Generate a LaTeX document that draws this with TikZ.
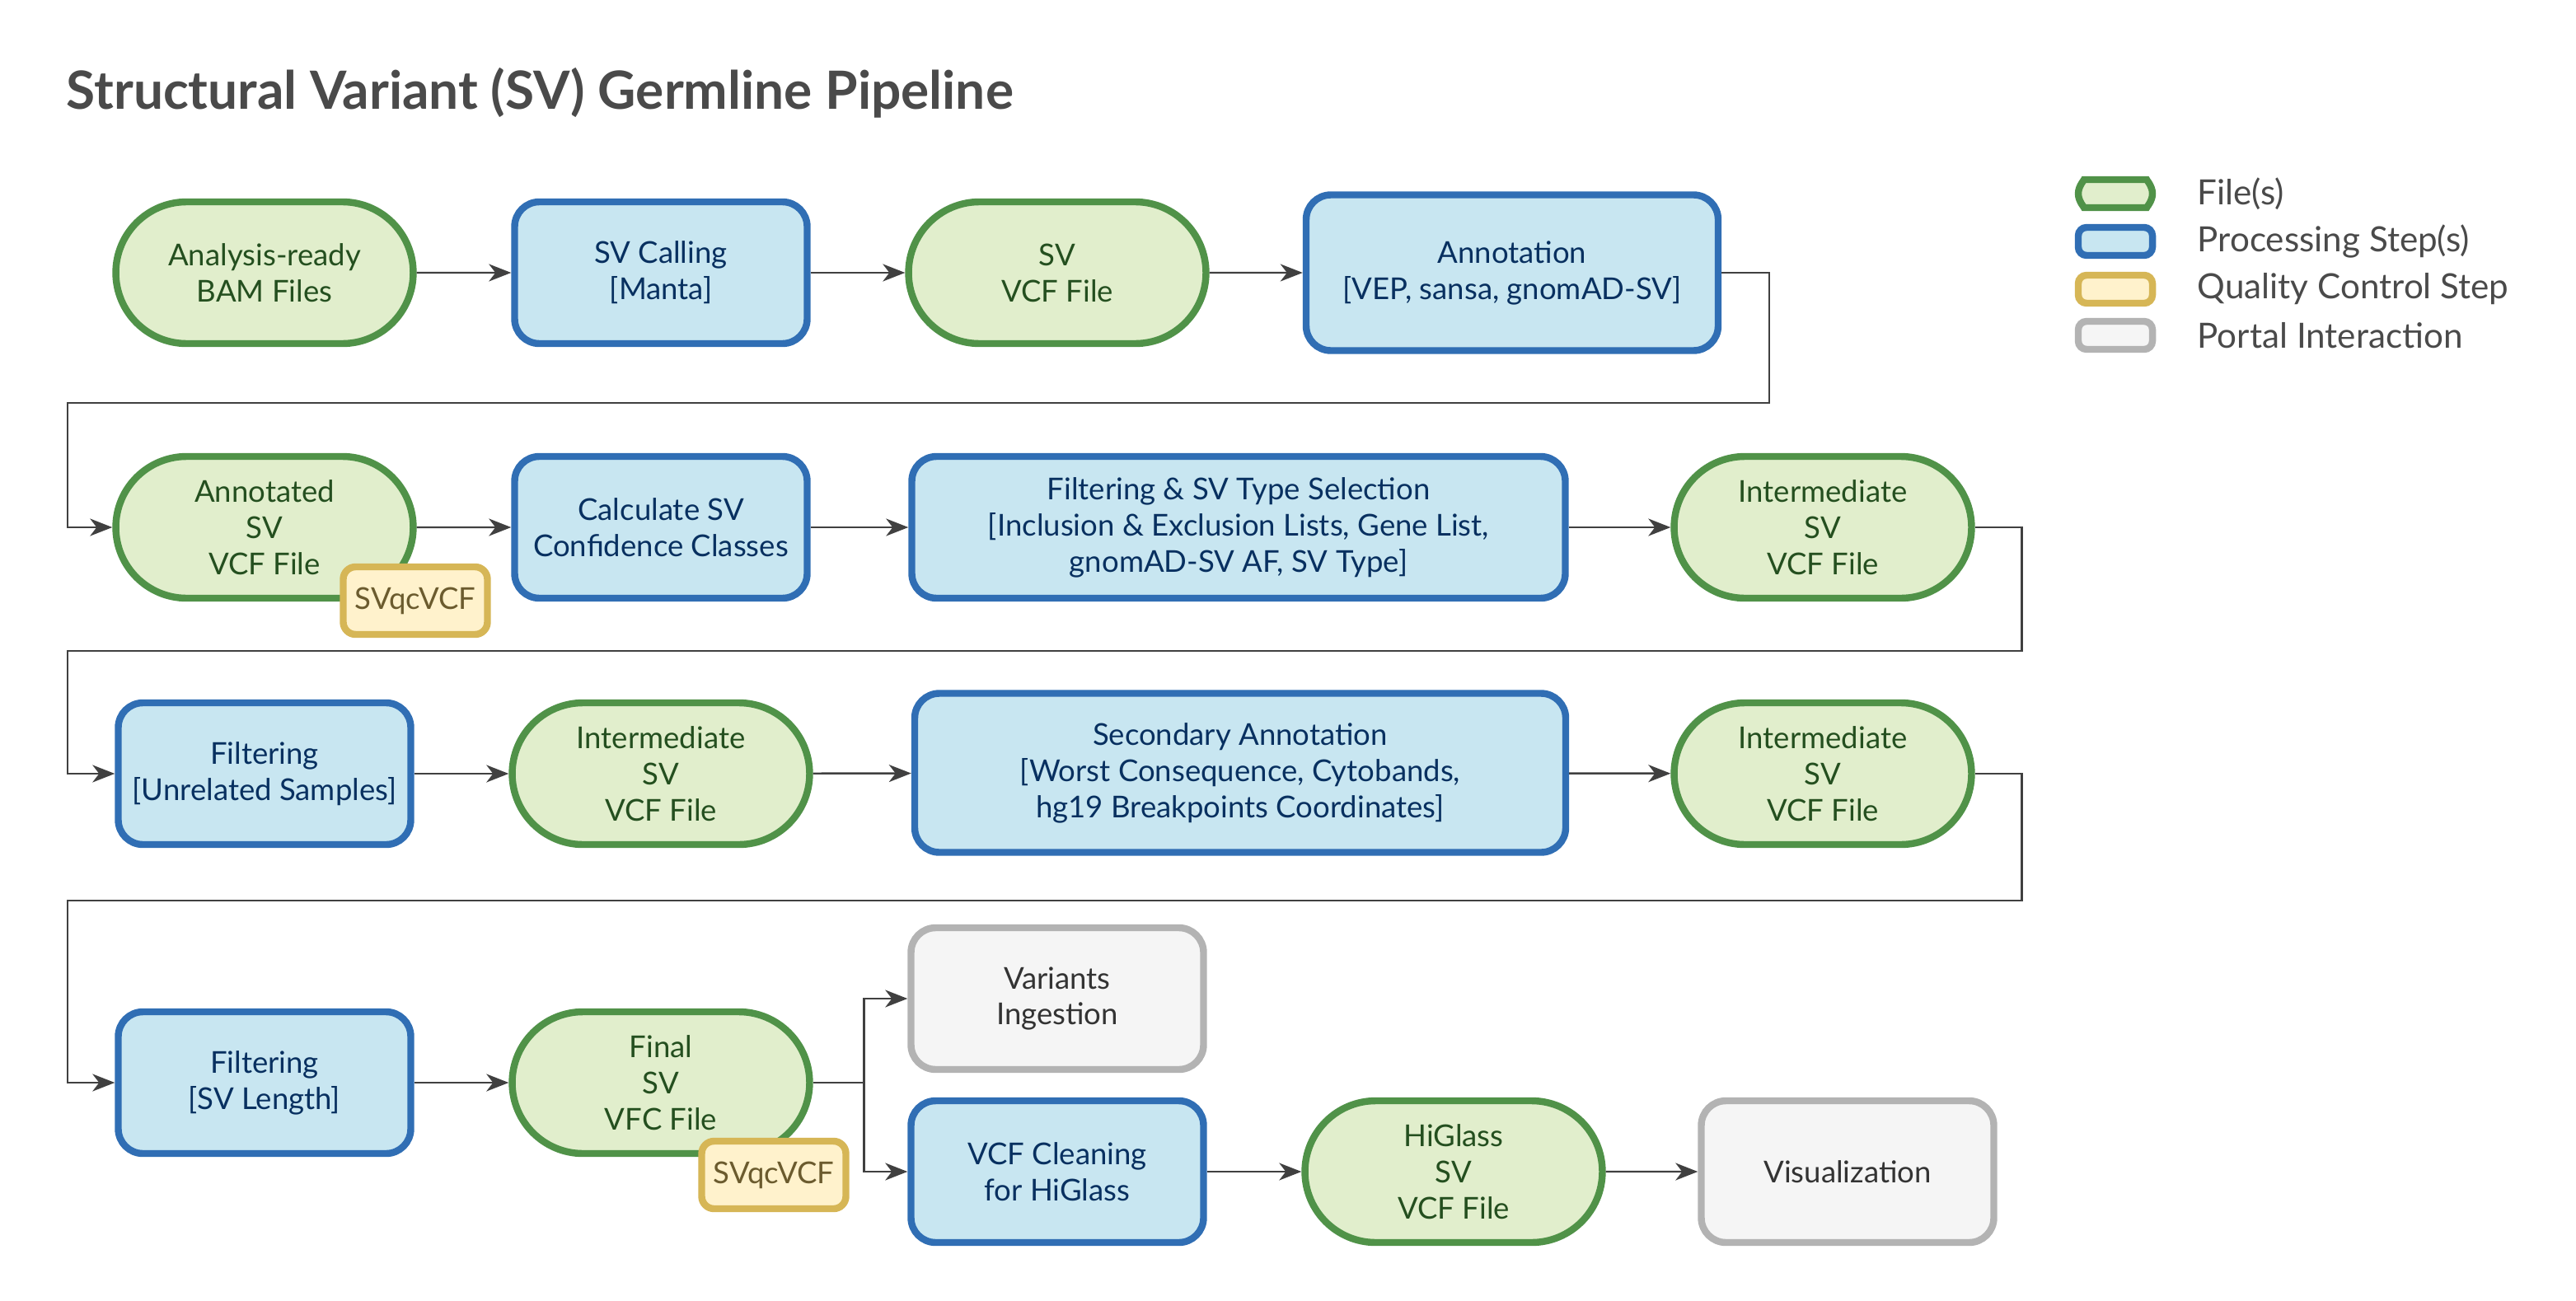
\documentclass[tikz,border=0pt]{standalone}
\usepackage{fontspec}
\setmainfont{Lato}
\usetikzlibrary{arrows.meta,shapes.misc}
\definecolor{filefill}{RGB}{225,238,204}
\definecolor{fileline}{RGB}{80,146,72}
\definecolor{filetext}{RGB}{36,79,31}
\definecolor{procfill}{RGB}{200,230,241}
\definecolor{procline}{RGB}{48,110,180}
\definecolor{proctext}{RGB}{8,48,96}
\definecolor{qcfill}{RGB}{255,242,204}
\definecolor{qcline}{RGB}{214,182,86}
\definecolor{qctext}{RGB}{107,91,46}
\definecolor{portalfill}{RGB}{245,245,245}
\definecolor{portalline}{RGB}{179,179,179}
\definecolor{portaltext}{RGB}{51,51,51}
\definecolor{flowgray}{RGB}{64,64,64}
\definecolor{titlegray}{RGB}{74,74,74}

\begin{document}
\begin{tikzpicture}[every node/.style={font=\fontsize{10.4}{12.5}\selectfont},
                    filenode/.style={rounded rectangle,draw=fileline,fill=filefill,text=filetext,
                      line width=2.4pt,minimum width=3.75cm,minimum height=1.72cm,align=center,inner sep=2pt},
                    procnode/.style={rectangle,rounded corners=0.3cm,draw=procline,fill=procfill,text=proctext,
                      line width=2.4pt,minimum width=3.55cm,minimum height=1.72cm,align=center},
                    qcnode/.style={rectangle,rounded corners=0.15cm,draw=qcline,fill=qcfill,text=qctext,
                      line width=2.4pt,minimum width=1.75cm,minimum height=0.82cm,align=center},
                    portalnode/.style={rectangle,rounded corners=0.3cm,draw=portalline,fill=portalfill,text=portaltext,
                      line width=2.4pt,minimum width=3.55cm,minimum height=1.72cm,align=center},
                    keybox/.style={minimum width=0.9cm,minimum height=0.34cm,rounded corners=0.1cm,inner sep=0pt},
                    keytext/.style={anchor=west,inner sep=0pt,text=titlegray,font=\fontsize{12}{15}\selectfont},
                    flow/.style={draw=flowgray,line width=0.7pt,
                      -{Stealth[length=2.7mm,width=2.1mm,inset=0.8mm]}}]

  \useasboundingbox (0,0) rectangle (31.26,-15.79);

  \node[anchor=base west,inner sep=0pt,text=titlegray,font=\fontsize{18.2}{22}\selectfont\bfseries] (title)
      at (0.8,-1.32) {Structural Variant (SV) Germline Pipeline};

  % --- legend -------------------------------------------------------------
  \node[filenode,keybox,rounded rectangle,minimum width=0.9cm] (keyfile) at (25.67,-2.35) {};
  \node[procnode,keybox] (keyproc) at (25.67,-2.93) {};
  \node[qcnode,keybox] (keyqc) at (25.67,-3.51) {};
  \node[portalnode,keybox] (keyportal) at (25.67,-4.07) {};
  \node[keytext] (keyfiletxt) at (26.66,-2.35) {File(s)};
  \node[keytext] (keyproctxt) at (26.66,-2.93) {Processing Step(s)};
  \node[keytext] (keyqctxt) at (26.66,-3.51) {Quality Control Step};
  \node[keytext] (keyportaltxt) at (26.66,-4.07) {Portal Interaction};

  % --- row 1: calling and annotation --------------------------------------
  \node[filenode] (bam) at (3.21,-3.31) {Analysis-ready\\BAM Files};
  \node[procnode] (calling) at (8.02,-3.31) {SV Calling\\{[Manta]}};
  \node[filenode] (svvcf) at (12.83,-3.31) {SV\\VCF File};
  \node[procnode,minimum width=5.0cm,minimum height=1.89cm] (annot) at (18.35,-3.31)
      {Annotation\\{[VEP, sansa, gnomAD-SV]}};

  % --- row 2: confidence classes and type selection -----------------------
  \node[filenode] (annsv) at (3.21,-6.40) {Annotated\\SV\\VCF File};
  \node[qcnode] (qcannsv) at (5.04,-7.29) {SVqcVCF};
  \node[procnode] (confclass) at (8.02,-6.40) {Calculate SV\\Confidence Classes};
  \node[procnode,minimum width=7.93cm] (typesel) at (15.03,-6.40)
      {Filtering \& SV Type Selection\\{[Inclusion \& Exclusion Lists, Gene List,}\\gnomAD-SV AF, SV Type]};
  \node[filenode] (interA) at (22.12,-6.40) {Intermediate\\SV\\VCF File};

  % --- row 3: sample filter and secondary annotation ----------------------
  \node[procnode] (unrelated) at (3.21,-9.39) {Filtering\\{[Unrelated Samples]}};
  \node[filenode] (interB) at (8.02,-9.39) {Intermediate\\SV\\VCF File};
  \node[procnode,minimum width=7.9cm,minimum height=1.93cm] (secannot) at (15.05,-9.38)
      {Secondary Annotation\\{[Worst Consequence, Cytobands,}\\hg19 Breakpoints Coordinates]};
  \node[filenode] (interC) at (22.12,-9.39) {Intermediate\\SV\\VCF File};

  % --- row 4: length filter, ingestion and HiGlass ------------------------
  \node[procnode] (svlength) at (3.21,-13.14) {Filtering\\{[SV Length]}};
  \node[filenode] (finalsv) at (8.02,-13.14) {Final\\SV\\VFC File};
  \node[qcnode] (qcfinal) at (9.39,-14.26) {SVqcVCF};
  \node[portalnode] (ingest) at (12.83,-12.12) {Variants\\Ingestion};
  \node[procnode] (cleaning) at (12.83,-14.22) {VCF Cleaning\\for HiGlass};
  \node[filenode] (higlass) at (17.64,-14.22) {HiGlass\\SV\\VCF File};
  \node[portalnode] (visual) at (22.42,-14.22) {Visualization};

  % --- connectors ---------------------------------------------------------
  \draw[flow] (bam) -- (calling);
  \draw[flow] (calling) -- (svvcf);
  \draw[flow] (svvcf) -- (annot);
  \draw[flow] (annot.east) -- ++(0.58,0) |- (0.82,-4.89) |- (annsv.west);
  \draw[flow] (annsv) -- (confclass);
  \draw[flow] (confclass) -- (typesel);
  \draw[flow] (typesel) -- (interA);
  \draw[flow] (interA.east) -- ++(0.57,0) |- (0.82,-7.90) |- (unrelated.west);
  \draw[flow] (unrelated) -- (interB);
  \draw[flow] (interB) -- (secannot);
  \draw[flow] (secannot) -- (interC);
  \draw[flow] (interC.east) -- ++(0.57,0) |- (0.82,-10.93) |- (svlength.west);
  \draw[flow] (svlength) -- (finalsv);
  \draw[flow] (finalsv.east) -- ++(0.62,0) coordinate (split) |- (ingest.west);
  \draw[flow] (split) |- (cleaning.west);
  \draw[flow] (cleaning) -- (higlass);
  \draw[flow] (higlass) -- (visual);
\end{tikzpicture}
\end{document}
